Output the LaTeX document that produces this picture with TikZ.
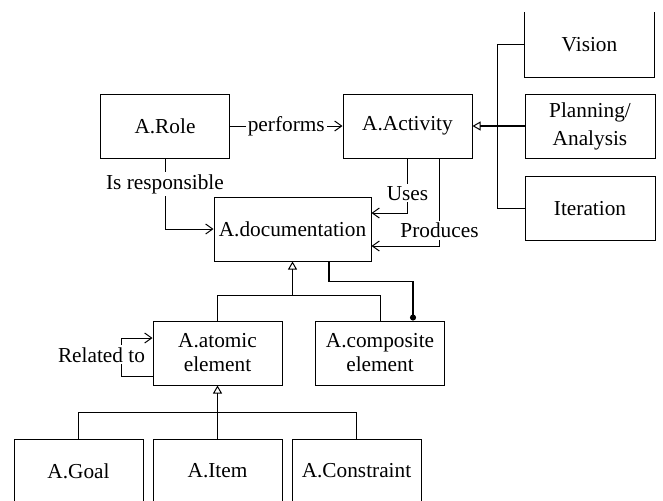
\documentclass[tikz,border=0pt]{standalone}
\usepackage{fontspec}
\setmainfont{Liberation Serif}
\usetikzlibrary{arrows.meta,calc}

\begin{document}
\begin{tikzpicture}[x=0.5pt,y=-0.5pt,
    box/.style={draw,line width=0.5pt,minimum width=64.5pt,minimum height=32pt,
        inner sep=0pt,align=center,font=\fontsize{10.65}{12}\selectfont},
    lbl/.style={fill=white,inner sep=1pt,font=\fontsize{10.65}{12}\selectfont},
    link/.style={line width=0.5pt,-{Straight Barb[length=3.5pt,width=5pt]}},
    isa/.style={line width=0.5pt,-{Triangle[open,length=4pt,width=4.5pt,line width=0.5pt]}}]
    % Frame of the picture
    \useasboundingbox (0,0) rectangle (663,500);
    \clip (0,0) rectangle (663,500);

    % Role and activity
    \node[box] (role) at (165,126) {A.Role};
    \node[box] (act) at (407.5,126) {A.Activity};
    \draw[link] (role) -- node[lbl] {performs} (act);

    % Kinds of activity
    \node[box,draw=none] (vision) at (589.5,44.5) {Vision};
    \draw[line width=0.5pt] (vision.north west) |- (vision.south east) -- (vision.north east);
    \node[box,minimum width=65pt,font=\fontsize{10.65}{14}\selectfont] (plan) at (590,126) {Planning/\\Analysis};
    \node[box,minimum width=65pt] (iter) at (590,208.5) {Iteration};
    \draw[line width=0.5pt] (vision.west) -- ++(-27,0) |- (iter.west);
    \draw[isa,line width=1pt] (plan.west) -- (act.east);

    % Documentation
    \node[box,minimum width=78.5pt] (doc) at (292.5,229) {A.documentation};
    \draw[link] (role.south) |- node[lbl,pos=0.18] {Is responsible} (doc.west);
    \draw[link] (act.south) |- node[lbl,pos=0.32] {Uses} ($(doc.east)+(0,-16)$);
    \draw[link] ($(act.south)+(32,0)$) |- node[lbl,pos=0.41] {Produces} ($(doc.east)+(0,17)$);

    % Elements
    \node[box] (atom) at (217.5,353) {A.atomic\\element};
    \node[box] (comp) at (380,353) {A.composite\\element};
    \coordinate (split1) at ([yshift=-17pt]doc.south);
    \draw[line width=0.5pt] (atom.north) |- (split1) -| (comp.north);
    \draw[isa] (split1) -- (doc.south);
    \draw[line width=0.8pt,-{Circle[length=3pt]}] ([xshift=18.25pt]doc.south) -- ++(0,20)
        -| ([xshift=16.5pt]comp.north);
    \draw[link] ([yshift=-11.5pt]atom.west) -- ++(-31,0)
        |- node[lbl,pos=0.28,xshift=-10pt] {Related to} ([yshift=7.5pt]atom.west);

    % Atomic kinds
    \node[box] (goal) at (78.5,471) {A.Goal};
    \node[box] (item) at (217.5,471) {A.Item};
    \node[box] (cons) at (356.5,471) {A.Constraint};
    \coordinate (split2) at ([yshift=-13.5pt]atom.south);
    \draw[line width=0.5pt] (goal.north) |- (split2) -| (cons.north);
    \draw[isa] (item.north) -- (atom.south);
\end{tikzpicture}
\end{document}
